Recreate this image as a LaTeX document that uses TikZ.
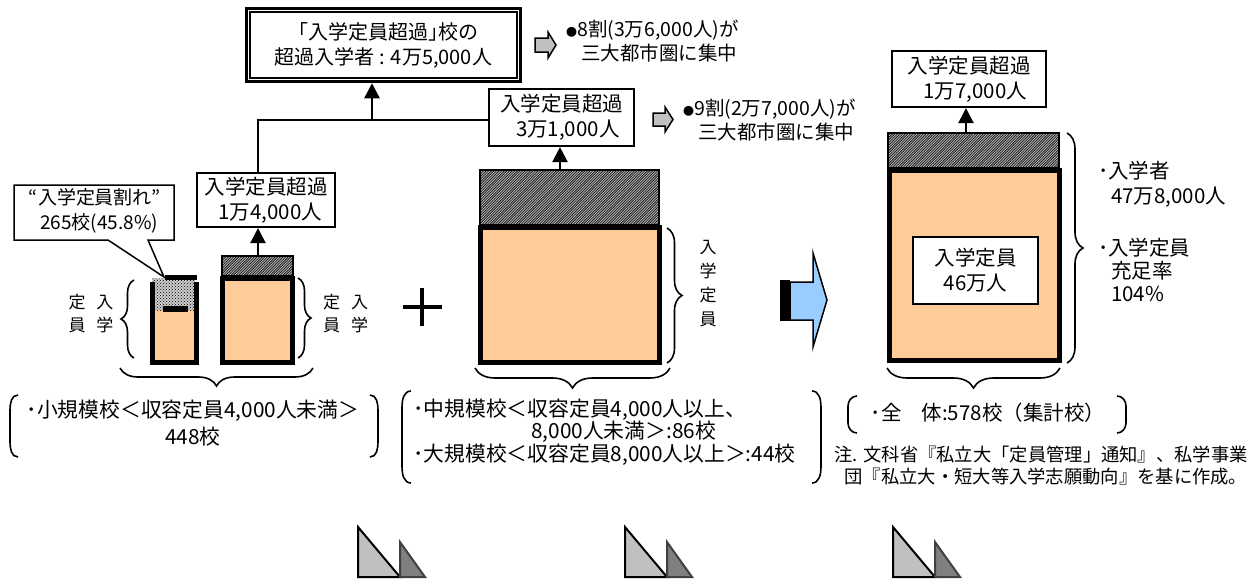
\documentclass[tikz,border=0pt]{standalone}
\usepackage{fontspec}
\setmainfont{Noto Sans CJK JP}
\usetikzlibrary{arrows.meta,decorations.pathreplacing,patterns}
\definecolor{peach}{HTML}{FFCC99}
\definecolor{lblue}{HTML}{99CCFF}
\definecolor{lgray}{HTML}{C0C0C0}
\definecolor{dgray}{HTML}{808080}
\definecolor{ddgray}{HTML}{404040}
\newcommand{\smallbullet}{{\fontsize{11}{11}\selectfont ●}}
\pgfdeclarepatternformonly{densehatch}{\pgfqpoint{-1pt}{-1pt}}{\pgfqpoint{3.5pt}{3.5pt}}{\pgfqpoint{2.6pt}{2.6pt}}{%
  \pgfsetlinewidth{0.8pt}\pgfpathmoveto{\pgfqpoint{0pt}{0pt}}\pgfpathlineto{\pgfqpoint{2.7pt}{2.7pt}}\pgfusepath{stroke}}
\begin{document}
\begin{tikzpicture}[x=1pt,y=-1pt,
  txt/.style={inner sep=0pt, align=center, font=\fontsize{20.5}{25}\selectfont},
  sidetxt/.style={inner sep=0pt, align=left, font=\fontsize{19.5}{24}\selectfont},
  lblbox/.style={draw, line width=2.2pt, fill=white, inner sep=0pt, align=left, font=\fontsize{20.5}{25}\selectfont},
  hatchbox/.style={draw, line width=1.6pt, inner sep=0pt, outer sep=0pt, preaction={fill=gray!45}, pattern=densehatch, pattern color=black!90},
  capbox/.style={draw, line width=5pt, fill=peach, inner sep=0pt, outer sep=0pt},
  arr/.style={line width=2.4pt, -{Triangle[length=15pt,width=15pt]}},
  link/.style={line width=2.4pt},
  brc/.style={decorate, decoration={brace, amplitude=#1}, line width=1.6pt},
  paren/.style={line width=1.6pt},
  grayarrow/.style={fill=lgray, line width=1.5pt, line join=miter},
]
\useasboundingbox (0,0) rectangle (1251,579);

% ---------- top double box ----------
\node[draw, line width=3.5pt, minimum width=274, minimum height=73, inner sep=0pt, align=center,
      font=\fontsize{20}{25}\selectfont] (top) at (383.5,45) {「入学定員超過｣校の\\超過入学者 : 4万5,000人};
\draw[line width=2.2pt] ([shift={(5.5,5.5)}]top.north west) rectangle ([shift={(-5.5,-5.5)}]top.south east);

% ---------- label boxes ----------
\node[lblbox, minimum width=138, minimum height=54] (b14) at (266,200) {入学定員超過\\\hspace*{14pt}1万4,000人};
\node[lblbox, minimum width=145, minimum height=57] (b31) at (561.5,117.5) {入学定員超過\\\hspace*{16pt}3万1,000人};
\node[lblbox, minimum width=154, minimum height=56] (b17) at (969,79) {入学定員超過\\\hspace*{16pt}1万7,000人};

% ---------- callout ----------
\draw[fill=white, line width=1.5pt, line join=miter] (14,185) -- (174,185) -- (174,240) -- (148,240) -- (164,277) -- (108,240) -- (14,240) -- cycle;
\node[txt, font=\fontsize{19}{25}\selectfont] (callout) at (95,211) {“入学定員割れ”\\\hspace*{8pt}265校(45.8\%)};

% ---------- small school 1 (割れ) ----------
\fill[peach] (155,310) rectangle (194,361);
\fill[preaction={fill=gray!40}, pattern=crosshatch dots, pattern color=black] (152,278) rectangle (195,310);
\draw[line width=5pt] (152,282) -- (152,362.5) -- (196,362.5) -- (196,282);
\fill (165,275) rectangle (197,280);
\fill (163,306) rectangle (188,312);

% ---------- small school 2 ----------
\node[hatchbox, minimum width=71, minimum height=20] (s2h) at (257.5,266) {};
\node[capbox, minimum width=70, minimum height=84] (s2o) at (257.5,320.5) {};

% ---------- middle school ----------
\node[hatchbox, minimum width=179, minimum height=55] (mh) at (569.5,197.5) {};
\node[capbox, minimum width=179, minimum height=135] (mo) at (570,295) {};

% ---------- right total ----------
\node[hatchbox, minimum width=171, minimum height=35] (rh) at (973.5,150.5) {};
\node[capbox, minimum width=170, minimum height=190] (ro) at (974.5,265.5) {};
\node[draw, line width=1.5pt, fill=white, minimum width=125, minimum height=67, txt] (cap) at (975.5,270.5) {入学定員\\46万人};

% ---------- connectors ----------
\coordinate (j1) at (258,120);
\coordinate (j2) at (372,120);
\draw[arr] (s2h.north -| j1) -- (b14.south -| j1);
\draw[link] (b14.north -| j1) -- (j1) -- (j1 -| b31.west);
\draw[arr] (j2) -- (top.south -| j2);
\draw[arr] ([xshift=-1.5pt]b31.south |- mh.north) -- ([xshift=-1.5pt]b31.south);
\draw[arr] ([xshift=-3pt]b17.south |- rh.north) -- ([xshift=-3pt]b17.south);

% ---------- gray arrows + notes ----------
\draw[grayarrow] (535,38) -- (548,38) -- (548,32) -- (556,45) -- (548,58) -- (548,52) -- (535,52) -- cycle;
\node[sidetxt, anchor=west] (n8) at (566,41.5) {\smallbullet 8割(3万6,000人)が\\\hspace*{15pt}三大都市圏に集中};
\draw[grayarrow] (653,113) -- (665,113) -- (665,107) -- (673,119.5) -- (665,132) -- (665,126) -- (653,126) -- cycle;
\node[sidetxt, anchor=west] (n9) at (683,120.5) {\smallbullet 9割(2万7,000人)が\\\hspace*{15pt}三大都市圏に集中};

% ---------- braces ----------
\draw[brc=13pt] (134,358) -- (134,280);
\node[txt, font=\fontsize{17}{23}\selectfont] (vl) at (91,314) {定\hspace{11pt}入\\員\hspace{11pt}学};
\draw[brc=13pt] (298,278) -- (298,358);
\node[txt, font=\fontsize{17}{23}\selectfont] (vr) at (345.5,314) {定\hspace{11pt}入\\員\hspace{11pt}学};
\draw[brc=18pt] (313,368) -- (120,368);

\draw[brc=15pt] (667,228) -- (667,363);
\node[txt, font=\fontsize{17}{24}\selectfont] (vm) at (708,283.5) {入\\学\\定\\員};
\draw[brc=20pt] (670,368) -- (475,368);

\draw[brc=16pt] (1067,133) -- (1067,363);
\draw[brc=20pt] (1060,368) -- (887,368);

\node[sidetxt, font=\fontsize{20.5}{25}\selectfont, anchor=west] (r1) at (1098,184.5) {･入学者\\\hspace*{13pt}47万8,000人};
\node[sidetxt, font=\fontsize{20.5}{23}\selectfont, anchor=west] (r2) at (1098,270) {･入学定員\\\hspace*{13pt}充足率\\\hspace*{13pt}104\%};

% ---------- plus sign ----------
\draw[line width=4pt] (403,307) -- (442,307);
\draw[line width=4pt] (422,288) -- (422,326);

% ---------- blue arrow ----------
\draw[fill=lblue, line width=1.5pt, line join=miter] (790,282) -- (813,282) -- (813,253) -- (827,300) -- (813,347) -- (813,320) -- (790,320) -- cycle;
\fill (780,280) rectangle (790,321);

% ---------- bottom text groups ----------
\draw[paren] (18,395) to[out=180,in=90] (10,410) -- (10,442) to[out=-90,in=180] (18,457);
\draw[paren] (370,395) to[out=0,in=90] (378,410) -- (378,442) to[out=-90,in=0] (370,457);
\node[txt, font=\fontsize{20.8}{27}\selectfont] (st) at (193,423.5) {･小規模校＜収容定員4,000人未満＞\\448校};

\draw[paren] (411,391) to[out=180,in=90] (402,407) -- (402,467) to[out=-90,in=180] (411,483);
\draw[paren] (812,391) to[out=0,in=90] (821,407) -- (821,467) to[out=-90,in=0] (812,483);
\node[sidetxt, font=\fontsize{20.8}{22.5}\selectfont, anchor=west] (mt) at (413,432) {･中規模校＜収容定員4,000人以上、\\\hspace*{118pt}8,000人未満＞:86校\\･大規模校＜収容定員8,000人以上＞:44校};

\draw[paren] (857,396) to[out=180,in=90] (848,406) -- (848,423) to[out=-90,in=180] (857,433);
\draw[paren] (1117,396) to[out=0,in=90] (1126,406) -- (1126,423) to[out=-90,in=0] (1117,433);
\node[txt, font=\fontsize{20.5}{25}\selectfont] (rt) at (988,413) {･全\hspace{20pt}体:578校（集計校）};

\node[sidetxt, font=\fontsize{18.3}{22}\selectfont, anchor=east] (note) at (1248,466) {注. 文科省『私立大「定員管理」通知』、私学事業\\\hspace*{10pt}団『私立大・短大等入学志願動向』を基に作成。};

% ---------- bottom triangles ----------
\foreach \dx in {0,267,535} {
  \draw[fill=lgray, line width=2pt, line join=miter] (358+\dx,527) -- (358+\dx,577) -- (400+\dx,577) -- cycle;
  \draw[fill=dgray, draw=ddgray, line width=2pt, line join=miter] (400+\dx,542) -- (400+\dx,577) -- (425+\dx,577) -- cycle;
}
\end{tikzpicture}
\end{document}
